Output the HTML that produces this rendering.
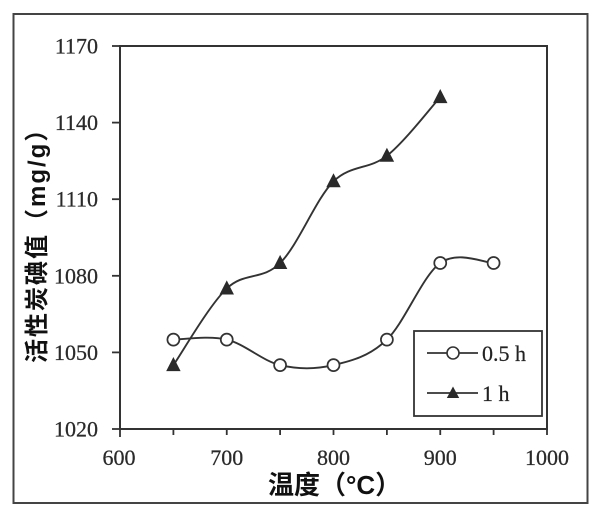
<!DOCTYPE html>
<html>
<head>
<meta charset="utf-8">
<style>
  html,body{margin:0;padding:0;background:#fff;}
  svg{display:block;}
  .tick{font-family:"Liberation Serif","DejaVu Serif",serif;font-size:22px;fill:#2a2a2a;stroke:#2a2a2a;stroke-width:0.25;}
  .leg{font-family:"Liberation Serif","DejaVu Serif",serif;font-size:22px;fill:#222;stroke:#222;stroke-width:0.2;}
  .title{font-family:"Liberation Sans","Noto Sans CJK SC",sans-serif;font-weight:bold;fill:#111;}
</style>
</head>
<body>
<svg width="600" height="516" viewBox="0 0 600 516" xmlns="http://www.w3.org/2000/svg">
  <rect x="0" y="0" width="600" height="516" fill="#fff"/>
  <!-- outer frame -->
  <rect x="13.5" y="14" width="574" height="489" fill="none" stroke="#444" stroke-width="2"/>
  <!-- plot box -->
  <rect x="120" y="46" width="427" height="383" fill="none" stroke="#333" stroke-width="2"/>

  <!-- y ticks -->
  <g stroke="#333" stroke-width="1.8">
    <line x1="112" y1="46" x2="120" y2="46"/>
    <line x1="112" y1="122.6" x2="120" y2="122.6"/>
    <line x1="112" y1="199.2" x2="120" y2="199.2"/>
    <line x1="112" y1="275.8" x2="120" y2="275.8"/>
    <line x1="112" y1="352.4" x2="120" y2="352.4"/>
    <line x1="112" y1="429" x2="120" y2="429"/>
  </g>
  <!-- x ticks -->
  <g stroke="#333" stroke-width="1.8">
    <line x1="120" y1="429" x2="120" y2="437"/>
    <line x1="173.4" y1="429" x2="173.4" y2="435"/>
    <line x1="226.75" y1="429" x2="226.75" y2="435"/>
    <line x1="280.1" y1="429" x2="280.1" y2="435"/>
    <line x1="333.5" y1="429" x2="333.5" y2="435"/>
    <line x1="386.9" y1="429" x2="386.9" y2="435"/>
    <line x1="440.25" y1="429" x2="440.25" y2="435"/>
    <line x1="493.6" y1="429" x2="493.6" y2="435"/>
    <line x1="547" y1="429" x2="547" y2="435"/>
  </g>

  <!-- y tick labels -->
  <g class="tick" text-anchor="end">
    <text x="98" y="53.5">1170</text>
    <text x="98" y="130.1">1140</text>
    <text x="98" y="206.7">1110</text>
    <text x="98" y="283.3">1080</text>
    <text x="98" y="359.9">1050</text>
    <text x="98" y="436.5">1020</text>
  </g>
  <!-- x tick labels -->
  <g class="tick" text-anchor="middle">
    <text x="119" y="465">600</text>
    <text x="226.75" y="465">700</text>
    <text x="333.5" y="465">800</text>
    <text x="440.25" y="465">900</text>
    <text x="547" y="465">1000</text>
  </g>

  <!-- series 0.5 h (smooth) -->
  <path d="M173.4,339.6 C182.3,339.6 208.97,335.35 226.75,339.6 C244.53,343.85 262.31,360.85 280.1,365.1 C297.89,369.35 315.7,369.35 333.5,365.1 C351.3,360.85 369.11,356.62 386.9,339.6 C404.69,322.58 422.47,275.77 440.25,263 C458.03,250.23 484.71,263 493.6,263"
        fill="none" stroke="#333" stroke-width="1.9"/>
  <!-- series 1 h (smooth) -->
  <path d="M173.4,365.1 C182.29,352.33 208.97,305.52 226.75,288.5 C244.53,271.48 262.31,280.87 280.1,263 C297.89,245.87 315.7,199.17 333.5,181.3 C351.3,164.43 369.11,169.83 386.9,155.8 C404.69,141.77 431.36,106.88 440.25,97.1"
        fill="none" stroke="#333" stroke-width="1.9"/>

  <!-- circle markers -->
  <g fill="#fff" stroke="#333" stroke-width="1.7">
    <circle cx="173.4" cy="339.6" r="6"/>
    <circle cx="226.75" cy="339.6" r="6"/>
    <circle cx="280.1" cy="365.1" r="6"/>
    <circle cx="333.5" cy="365.1" r="6"/>
    <circle cx="386.9" cy="339.6" r="6"/>
    <circle cx="440.25" cy="263" r="6"/>
    <circle cx="493.6" cy="263" r="6"/>
  </g>
  <!-- triangle markers -->
  <g fill="#2a2a2a" stroke="#2a2a2a" stroke-width="1">
    <polygon points="173.4,358.1 167,370.6 179.8,370.6"/>
    <polygon points="226.75,281.5 220.35,294 233.15,294"/>
    <polygon points="280.1,256 273.7,268.5 286.5,268.5"/>
    <polygon points="333.5,174.3 327.1,186.8 339.9,186.8"/>
    <polygon points="386.9,148.8 380.5,161.3 393.3,161.3"/>
    <polygon points="440.25,90.1 433.85,102.6 446.65,102.6"/>
  </g>

  <!-- legend -->
  <rect x="414" y="331" width="128" height="85" fill="#fff" stroke="#333" stroke-width="1.8"/>
  <line x1="427" y1="353" x2="478" y2="353" stroke="#333" stroke-width="1.8"/>
  <circle cx="453" cy="353" r="6" fill="#fff" stroke="#333" stroke-width="1.6"/>
  <text class="leg" x="482" y="361">0.5 h</text>
  <line x1="427" y1="393" x2="478" y2="393" stroke="#333" stroke-width="1.8"/>
  <polygon points="453,386.5 446.8,398 459.2,398" fill="#2a2a2a"/>
  <text class="leg" x="482" y="401">1 h</text>

  <!-- axis titles -->
  <text class="title" x="268" y="494" font-size="26">温度（°C）</text>
  <text class="title" transform="translate(45,363) rotate(-90)" x="0" y="0" font-size="24" letter-spacing="2">活性炭碘值（mg/g）</text>
</svg>
</body>
</html>
